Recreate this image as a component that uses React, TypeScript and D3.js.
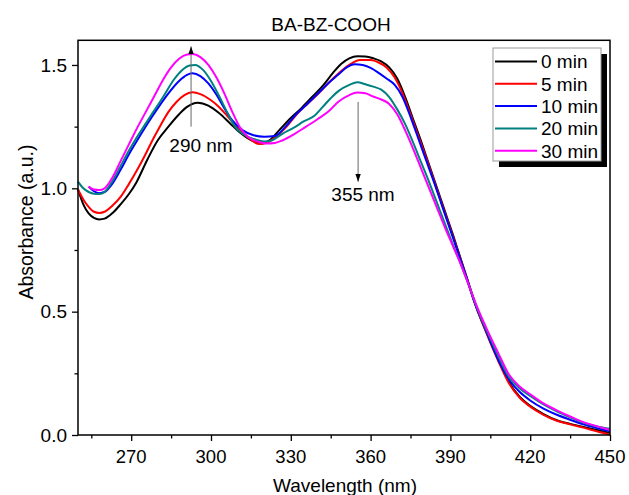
import React, { useRef, useEffect } from 'react';
import * as d3 from 'd3';

// absorbance spectra, [wavelength nm, absorbance a.u.]
const min0 = [[250,0.995],[252,0.935],[254,0.898],[256,0.88],[258,0.874],[260,0.877],[263,0.9],[266,0.935],[269,0.975],[272,1.025],[276,1.115],[280,1.195],[284,1.25],[288,1.3],[291,1.33],[295,1.347],[299,1.335],[303,1.305],[307,1.265],[311,1.225],[315,1.195],[319,1.182],[322,1.195],[326,1.24],[330,1.285],[334,1.325],[338,1.37],[342,1.415],[346,1.47],[349,1.505],[352,1.527],[355,1.535],[358,1.534],[361,1.527],[364,1.515],[367,1.49],[370,1.445],[373,1.37],[376,1.28],[379,1.19],[382,1.095],[385,1.0],[388,0.905],[391,0.81],[394,0.71],[397,0.61],[400,0.51],[404,0.405],[408,0.305],[412,0.215],[416,0.155],[420,0.118],[425,0.085],[430,0.06],[435,0.045],[440,0.033],[445,0.02],[450,0.008]];
const min5 = [[250,0.995],[252,0.955],[254,0.925],[256,0.905],[258,0.9],[260,0.905],[263,0.93],[266,0.965],[269,1.015],[272,1.07],[275,1.13],[278,1.195],[281,1.255],[284,1.31],[287,1.35],[290,1.378],[293,1.389],[296,1.382],[300,1.357],[303,1.33],[306,1.295],[310,1.245],[314,1.205],[318,1.18],[321,1.185],[324,1.205],[328,1.245],[332,1.297],[336,1.34],[340,1.38],[344,1.425],[348,1.466],[352,1.5],[356,1.52],[360,1.52],[363,1.51],[366,1.49],[369,1.45],[372,1.385],[375,1.3],[378,1.21],[381,1.12],[384,1.025],[387,0.93],[390,0.835],[393,0.74],[396,0.64],[399,0.54],[402,0.455],[405,0.375],[408,0.3],[412,0.21],[416,0.152],[420,0.115],[425,0.082],[430,0.058],[435,0.043],[440,0.03],[445,0.015],[450,0.002]];
const min10 = [[254,1.007],[256,0.988],[258,0.98],[260,0.985],[263,1.02],[266,1.075],[269,1.135],[272,1.19],[276,1.26],[280,1.325],[284,1.385],[288,1.435],[291,1.46],[293,1.466],[296,1.455],[299,1.425],[302,1.38],[305,1.325],[308,1.275],[312,1.235],[316,1.215],[320,1.209],[324,1.212],[328,1.25],[332,1.3],[336,1.34],[340,1.382],[344,1.425],[348,1.462],[351,1.49],[354,1.503],[357,1.5],[360,1.488],[363,1.468],[366,1.445],[369,1.42],[372,1.37],[375,1.29],[378,1.2],[381,1.11],[384,1.02],[387,0.925],[390,0.83],[393,0.735],[396,0.64],[399,0.54],[402,0.46],[405,0.38],[408,0.305],[412,0.225],[416,0.175],[420,0.14],[425,0.107],[430,0.082],[435,0.062],[440,0.043],[445,0.028],[450,0.015]];
const min20 = [[250,1.027],[252,1.0],[254,0.985],[256,0.978],[258,0.977],[260,0.985],[263,1.03],[266,1.09],[269,1.15],[272,1.205],[275,1.255],[278,1.305],[282,1.37],[286,1.44],[289,1.478],[292,1.498],[294,1.5],[297,1.48],[300,1.435],[303,1.375],[306,1.31],[309,1.25],[312,1.22],[316,1.2],[320,1.19],[323,1.195],[327,1.222],[331,1.245],[335,1.272],[339,1.295],[342,1.33],[345,1.365],[348,1.395],[352,1.419],[355,1.43],[358,1.422],[361,1.412],[364,1.4],[367,1.37],[370,1.32],[373,1.26],[376,1.185],[379,1.105],[382,1.025],[385,0.94],[388,0.855],[391,0.77],[394,0.69],[397,0.605],[400,0.515],[404,0.415],[408,0.32],[412,0.235],[416,0.19],[420,0.158],[425,0.124],[430,0.096],[435,0.072],[440,0.05],[445,0.035],[450,0.025]];
const min30 = [[254,1.007],[256,0.995],[258,0.993],[260,1.0],[263,1.045],[266,1.11],[269,1.175],[272,1.24],[276,1.32],[279,1.38],[282,1.44],[285,1.49],[288,1.525],[291,1.542],[293,1.544],[296,1.532],[299,1.5],[302,1.45],[305,1.385],[308,1.31],[311,1.245],[314,1.208],[318,1.188],[321,1.182],[324,1.184],[327,1.195],[331,1.218],[335,1.245],[340,1.28],[344,1.31],[348,1.352],[352,1.378],[355,1.388],[358,1.385],[361,1.372],[364,1.36],[367,1.342],[370,1.3],[373,1.235],[376,1.16],[379,1.08],[382,1.0],[385,0.92],[388,0.84],[391,0.765],[394,0.69],[397,0.605],[400,0.52],[404,0.422],[408,0.332],[412,0.245],[416,0.197],[420,0.165],[425,0.128],[430,0.1],[435,0.075],[440,0.052],[445,0.036],[450,0.02]];

const seriesNames = ['0 min', '5 min', '10 min', '20 min', '30 min'];
const seriesData = [min0, min5, min10, min20, min30];
const colors = ['#000000', '#ff0000', '#0000ff', '#008080', '#ff00ff'];

const xMajor = [270, 300, 330, 360, 390, 420, 450];
const xMinor = [255, 285, 315, 345, 375, 405, 435];
const yMajor = [0, 0.5, 1.0, 1.5];
const yMinor = [0.25, 0.75, 1.25];

// arrow annotations: [wavelength, from, to]
const arrowUp = [292.5, 1.25, 1.575];
const arrowDown = [355.3, 1.35, 1.027];

const W = 629, H = 495;
const FONT = '"Liberation Sans", Arial, sans-serif';

const App = () => {
  const svgRef = useRef(null);

  useEffect(() => {
    const svg = d3.select(svgRef.current);
    svg.selectAll('*').remove();

    const x = d3.scaleLinear().domain([250, 450]).range([78, 610]);
    const y = d3.scaleLinear().domain([0, 1.6]).range([435, 40.3]);

    svg.append('rect').attr('width', W).attr('height', H).attr('fill', '#fff');

    const defs = svg.append('defs');
    defs.append('marker')
      .attr('id', 'head').attr('viewBox', '0 0 10 10')
      .attr('refX', 10).attr('refY', 5)
      .attr('markerWidth', 8).attr('markerHeight', 8)
      .attr('markerUnits', 'userSpaceOnUse')
      .attr('orient', 'auto')
      .append('path').attr('d', 'M0,1.5 L10,5 L0,8.5 Z').attr('fill', '#000');

    // curves
    const line = d3.line()
      .x(d => x(d[0]))
      .y(d => y(d[1]))
      .curve(d3.curveMonotoneX);

    seriesData.forEach((s, i) => {
      svg.append('path')
        .attr('d', line(s))
        .attr('fill', 'none')
        .attr('stroke', colors[i])
        .attr('stroke-width', 2);
    });

    // frame
    svg.append('rect')
      .attr('x', x(250)).attr('y', y(1.6))
      .attr('width', x(450) - x(250)).attr('height', y(0) - y(1.6))
      .attr('fill', 'none').attr('stroke', '#000').attr('stroke-width', 1.5);

    // x axis
    const gx = svg.append('g').attr('transform', `translate(0,${y(0)})`);
    gx.call(d3.axisBottom(x).tickValues(xMajor).tickSize(6).tickFormat(() => ''));
    gx.call(g => g.select('.domain').remove());
    const gxm = svg.append('g').attr('transform', `translate(0,${y(0)})`);
    gxm.call(d3.axisBottom(x).tickValues(xMinor).tickSize(3.5).tickFormat(() => ''));
    gxm.call(g => g.select('.domain').remove());

    svg.append('g').selectAll('text').data(xMajor).enter().append('text')
      .attr('x', d => x(d)).attr('y', 463)
      .attr('text-anchor', 'middle')
      .attr('font-family', FONT).attr('font-size', 18.5)
      .text(d => d);

    // y axis
    const gy = svg.append('g').attr('transform', `translate(${x(250)},0)`);
    gy.call(d3.axisLeft(y).tickValues(yMajor).tickSize(6).tickFormat(() => ''));
    gy.call(g => g.select('.domain').remove());
    const gym = svg.append('g').attr('transform', `translate(${x(250)},0)`);
    gym.call(d3.axisLeft(y).tickValues(yMinor).tickSize(3.5).tickFormat(() => ''));
    gym.call(g => g.select('.domain').remove());
    svg.selectAll('.tick line').attr('stroke-width', 1.3);

    svg.append('g').selectAll('text').data(yMajor).enter().append('text')
      .attr('x', 67).attr('y', d => y(d) + 6.8)
      .attr('text-anchor', 'end')
      .attr('font-family', FONT).attr('font-size', 19)
      .text(d => d3.format('.1f')(d));

    // axis titles
    svg.append('text')
      .attr('x', 345).attr('y', 492)
      .attr('text-anchor', 'middle')
      .attr('font-family', FONT).attr('font-size', 19)
      .text('Wavelength (nm)');
    svg.append('text')
      .attr('transform', `translate(33,222) rotate(-90)`)
      .attr('text-anchor', 'middle')
      .attr('font-family', FONT).attr('font-size', 19.5)
      .text('Absorbance (a.u.)');

    // title
    svg.append('text')
      .attr('x', 331).attr('y', 31)
      .attr('text-anchor', 'middle')
      .attr('font-family', FONT).attr('font-size', 19)
      .text('BA-BZ-COOH');

    // arrows
    [arrowUp, arrowDown].forEach(a => {
      svg.append('line')
        .attr('x1', x(a[0])).attr('x2', x(a[0]))
        .attr('y1', y(a[1])).attr('y2', y(a[2]))
        .attr('stroke', '#666').attr('stroke-width', 1)
        .attr('marker-end', 'url(#head)');
    });
    svg.append('text')
      .attr('x', 201).attr('y', 152)
      .attr('text-anchor', 'middle')
      .attr('font-family', FONT).attr('font-size', 19)
      .text('290 nm');
    svg.append('text')
      .attr('x', 363).attr('y', 201)
      .attr('text-anchor', 'middle')
      .attr('font-family', FONT).attr('font-size', 19)
      .text('355 nm');

    // legend
    const lg = svg.append('g');
    lg.append('rect').attr('x', 499).attr('y', 54).attr('width', 108).attr('height', 113).attr('fill', '#000');
    lg.append('rect').attr('x', 493).attr('y', 48).attr('width', 108).attr('height', 113)
      .attr('fill', '#fff').attr('stroke', '#999').attr('stroke-width', 1);
    seriesNames.forEach((name, i) => {
      const cy = 61.5 + i * 22.3;
      lg.append('line')
        .attr('x1', 495).attr('x2', 537).attr('y1', cy).attr('y2', cy)
        .attr('stroke', colors[i]).attr('stroke-width', 2);
      lg.append('text')
        .attr('x', 541).attr('y', cy + 6.8)
        .attr('font-family', FONT).attr('font-size', 19)
        .text(name);
    });
  }, []);

  return (
    <svg ref={svgRef} width={W} height={H}
      style={{ position: 'absolute', left: 0, top: 0 }} />
  );
};

export default App;
